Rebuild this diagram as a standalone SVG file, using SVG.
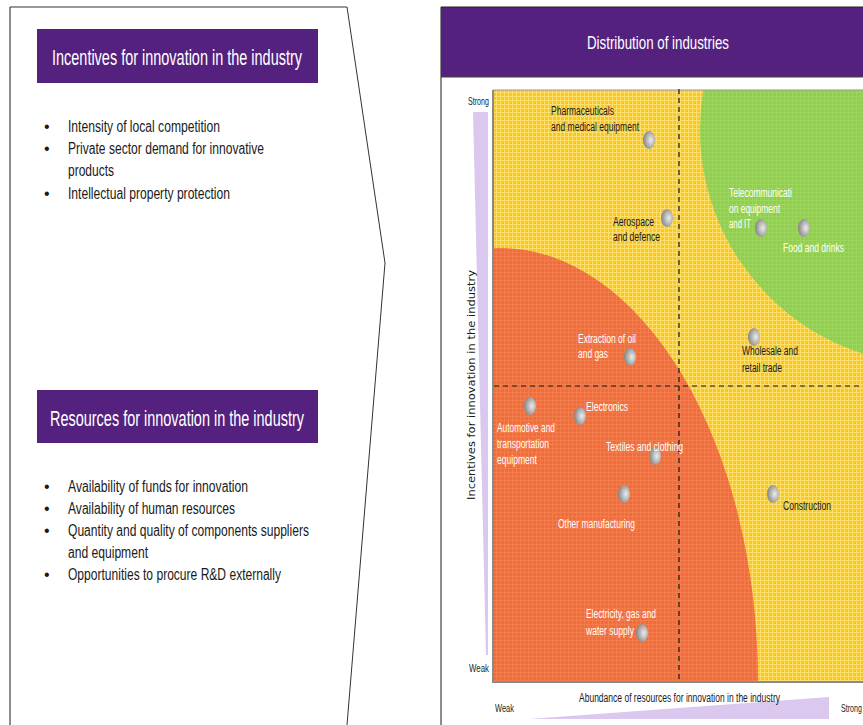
<svg xmlns="http://www.w3.org/2000/svg" width="863" height="725" viewBox="0 0 863 725">
<style>
  .hdr{fill:#54217f}
  .htxt{font-family:"Liberation Sans",Arial,sans-serif;font-size:22px;fill:#ffffff}
  .bul{font-family:"Liberation Sans",Arial,sans-serif;font-size:16px;fill:#1a1a1a}
  .lbl{font-family:"Liberation Sans",Arial,sans-serif;font-size:12px}
  .dk{fill:#1a1a1a}
  .wh{fill:#ffffff}
  .ax{font-family:"Liberation Sans",Arial,sans-serif;font-size:10.5px;fill:#222}
  .dot{fill:url(#dotg)}
  .dash{stroke:#1a1a1a;stroke-width:1.2;stroke-dasharray:5,4;fill:none}
</style>
<defs>
  <pattern id="py" width="4" height="4" patternUnits="userSpaceOnUse">
    <rect width="4" height="4" fill="#fbc81a"/>
    <rect width="4" height="1" fill="#fddf70"/>
    <rect width="1" height="4" fill="#fddf70"/>
  </pattern>
  <pattern id="pg" width="4" height="4" patternUnits="userSpaceOnUse">
    <rect width="4" height="4" fill="#8fcf4c"/>
    <rect width="4" height="1" fill="#9dd65e"/>
    <rect width="1" height="4" fill="#9dd65e"/>
  </pattern>
  <pattern id="pr" width="4" height="4" patternUnits="userSpaceOnUse">
    <rect width="4" height="4" fill="#f26a3d"/>
    <rect width="4" height="1" fill="#f47d4c"/>
    <rect width="1" height="4" fill="#f47d4c"/>
  </pattern>
  <radialGradient id="dotg" cx="65%" cy="50%" r="60%">
    <stop offset="0" stop-color="#ececec"/>
    <stop offset="1" stop-color="#8a8a8a"/>
  </radialGradient>
  <clipPath id="plot"><rect x="493" y="90" width="380" height="592"/></clipPath>
</defs>

<!-- Left panel -->
<g id="left-panel">
  <line x1="10" y1="7" x2="10" y2="725" stroke="#8c8c8c" stroke-width="2"/>
  <polyline points="10,7 347,7 385,263 347,725" fill="none" stroke="#333" stroke-width="1"/>
</g>

<g id="incentives">
  <rect class="hdr" x="37" y="29" width="281" height="54"/>
  <text class="htxt" x="52" y="65" textLength="250" lengthAdjust="spacingAndGlyphs">Incentives for innovation in the industry</text>
  <text class="bul" x="44" y="132">•</text>
  <text class="bul" x="68" y="132" textLength="152" lengthAdjust="spacingAndGlyphs">Intensity of local competition</text>
  <text class="bul" x="44" y="154">•</text>
  <text class="bul" x="68" y="154" textLength="196" lengthAdjust="spacingAndGlyphs">Private sector demand for innovative</text>
  <text class="bul" x="68" y="176" textLength="46" lengthAdjust="spacingAndGlyphs">products</text>
  <text class="bul" x="44" y="199">•</text>
  <text class="bul" x="68" y="199" textLength="162" lengthAdjust="spacingAndGlyphs">Intellectual property protection</text>
</g>

<g id="resources">
  <rect class="hdr" x="37" y="390" width="281" height="53"/>
  <text class="htxt" x="50" y="426" textLength="254" lengthAdjust="spacingAndGlyphs">Resources for innovation in the industry</text>
  <text class="bul" x="44" y="492">•</text>
  <text class="bul" x="68" y="492" textLength="180" lengthAdjust="spacingAndGlyphs">Availability of funds for innovation</text>
  <text class="bul" x="44" y="514">•</text>
  <text class="bul" x="68" y="514" textLength="167" lengthAdjust="spacingAndGlyphs">Availability of human resources</text>
  <text class="bul" x="44" y="536">•</text>
  <text class="bul" x="68" y="536" textLength="241" lengthAdjust="spacingAndGlyphs">Quantity and quality of components suppliers</text>
  <text class="bul" x="68" y="558" textLength="80" lengthAdjust="spacingAndGlyphs">and equipment</text>
  <text class="bul" x="44" y="580">•</text>
  <text class="bul" x="68" y="580" textLength="213" lengthAdjust="spacingAndGlyphs">Opportunities to procure R&amp;D externally</text>
</g>

<!-- Right panel -->
<g id="right-panel">
  <line x1="441" y1="7" x2="441" y2="725" stroke="#8c8c8c" stroke-width="2"/>
  <rect class="hdr" x="441" y="7" width="430" height="70"/>
  <line x1="441" y1="7" x2="863" y2="7" stroke="#222" stroke-width="1"/>
  <line x1="441" y1="77" x2="863" y2="77" stroke="#444" stroke-width="1"/>
  <text x="658" y="49" text-anchor="middle" font-family="Liberation Sans, Arial, sans-serif" font-size="19" fill="#fff" textLength="142" lengthAdjust="spacingAndGlyphs">Distribution of industries</text>
</g>

<g id="plot-area">
  <g clip-path="url(#plot)">
    <rect x="493" y="90" width="380" height="592" fill="url(#py)"/>
    <circle cx="935" cy="130" r="235" fill="url(#pg)"/>
    <ellipse cx="500" cy="682" rx="258" ry="434" fill="url(#pr)"/>
  </g>
  <line x1="493" y1="90" x2="863" y2="90" stroke="#999" stroke-width="1"/>
  <polyline points="493,90 493,682 863,682" fill="none" stroke="#8a8a8a" stroke-width="2"/>
</g>

<g id="connectors">
  <line class="dash" x1="679" y1="89" x2="679" y2="680"/>
  <line class="dash" x1="494" y1="386" x2="863" y2="386"/>
</g>

<g id="axes">
  <polygon points="473,112 488,112 488,655 486,655" fill="#dac8ef"/>
  <polygon points="529,719 829,697 829,719" fill="#dac8ef"/>
  <text class="ax" x="489" y="105" text-anchor="end" textLength="21" lengthAdjust="spacingAndGlyphs">Strong</text>
  <text class="ax" x="489" y="672" text-anchor="end" textLength="20" lengthAdjust="spacingAndGlyphs">Weak</text>
  <text class="ax" x="495" y="712" textLength="19" lengthAdjust="spacingAndGlyphs">Weak</text>
  <text class="ax" x="862" y="712" text-anchor="end" textLength="21" lengthAdjust="spacingAndGlyphs">Strong</text>
  <text x="579" y="702" font-family="Liberation Sans, Arial, sans-serif" font-size="12.5" fill="#1a1a1a" textLength="201" lengthAdjust="spacingAndGlyphs">Abundance of resources for innovation in the industry</text>
  <text transform="translate(475,385) rotate(-90)" text-anchor="middle" font-family="DejaVu Sans, Verdana, sans-serif" font-size="11" fill="#1a1a1a" textLength="230" lengthAdjust="spacingAndGlyphs">Incentives for innovation in the industry</text>
</g>

<g id="pharma">
  <ellipse class="dot" cx="649" cy="140" rx="6" ry="9"/>
  <text class="lbl dk" x="551" y="115" textLength="63" lengthAdjust="spacingAndGlyphs">Pharmaceuticals</text>
  <text class="lbl dk" x="551" y="131" textLength="88" lengthAdjust="spacingAndGlyphs">and medical equipment</text>
</g>
<g id="aerospace">
  <ellipse class="dot" cx="667" cy="218" rx="6" ry="9"/>
  <text class="lbl dk" x="613" y="226" textLength="41" lengthAdjust="spacingAndGlyphs">Aerospace</text>
  <text class="lbl dk" x="613" y="241" textLength="47" lengthAdjust="spacingAndGlyphs">and defence</text>
</g>
<g id="telecom">
  <ellipse class="dot" cx="761" cy="228" rx="6" ry="9"/>
  <text class="lbl wh" x="729" y="197" textLength="63" lengthAdjust="spacingAndGlyphs">Telecommunicati</text>
  <text class="lbl wh" x="729" y="213" textLength="51" lengthAdjust="spacingAndGlyphs">on equipment</text>
  <text class="lbl wh" x="729" y="228" textLength="22" lengthAdjust="spacingAndGlyphs">and IT</text>
</g>
<g id="food">
  <ellipse class="dot" cx="804" cy="228" rx="6" ry="9"/>
  <text class="lbl wh" x="783" y="252" textLength="61" lengthAdjust="spacingAndGlyphs">Food and drinks</text>
</g>
<g id="extraction">
  <ellipse class="dot" cx="630" cy="357" rx="6" ry="9"/>
  <text class="lbl wh" x="578" y="343" textLength="58" lengthAdjust="spacingAndGlyphs">Extraction of oil</text>
  <text class="lbl wh" x="578" y="358" textLength="30" lengthAdjust="spacingAndGlyphs">and gas</text>
</g>
<g id="wholesale">
  <ellipse class="dot" cx="754" cy="337" rx="6" ry="9"/>
  <text class="lbl dk" x="742" y="355" textLength="56" lengthAdjust="spacingAndGlyphs">Wholesale and</text>
  <text class="lbl dk" x="742" y="372" textLength="40" lengthAdjust="spacingAndGlyphs">retail trade</text>
</g>
<g id="automotive">
  <ellipse class="dot" cx="530" cy="406" rx="6" ry="9"/>
  <text class="lbl wh" x="497" y="432" textLength="58" lengthAdjust="spacingAndGlyphs">Automotive and</text>
  <text class="lbl wh" x="497" y="448" textLength="52" lengthAdjust="spacingAndGlyphs">transportation</text>
  <text class="lbl wh" x="497" y="464" textLength="40" lengthAdjust="spacingAndGlyphs">equipment</text>
</g>
<g id="electronics">
  <ellipse class="dot" cx="580" cy="416" rx="6" ry="9"/>
  <text class="lbl wh" x="586" y="411" textLength="42" lengthAdjust="spacingAndGlyphs">Electronics</text>
</g>
<g id="textiles">
  <ellipse class="dot" cx="655" cy="456" rx="6" ry="9"/>
  <text class="lbl wh" x="606" y="451" textLength="77" lengthAdjust="spacingAndGlyphs">Textiles and clothing</text>
</g>
<g id="other-manufacturing">
  <ellipse class="dot" cx="624" cy="494" rx="6" ry="9"/>
  <text class="lbl wh" x="558" y="528" textLength="77" lengthAdjust="spacingAndGlyphs">Other manufacturing</text>
</g>
<g id="construction">
  <ellipse class="dot" cx="773" cy="494" rx="6" ry="9"/>
  <text class="lbl dk" x="783" y="510" textLength="48" lengthAdjust="spacingAndGlyphs">Construction</text>
</g>
<g id="electricity">
  <ellipse class="dot" cx="642" cy="633" rx="6" ry="9"/>
  <text class="lbl wh" x="586" y="618" textLength="70" lengthAdjust="spacingAndGlyphs">Electricity, gas and</text>
  <text class="lbl wh" x="586" y="635" textLength="48" lengthAdjust="spacingAndGlyphs">water supply</text>
</g>
</svg>
